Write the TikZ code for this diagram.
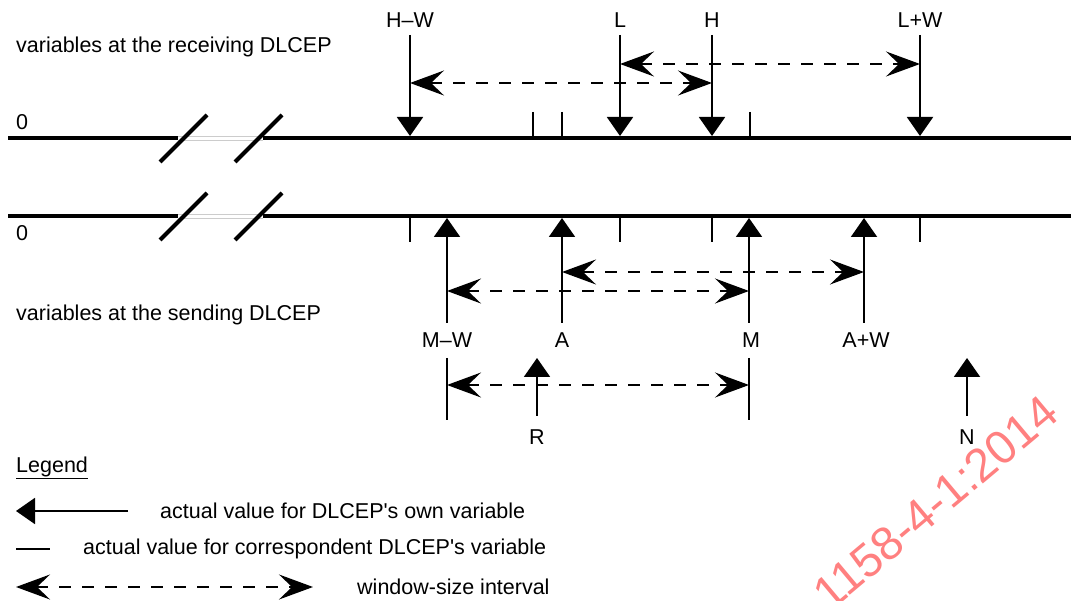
\documentclass[tikz,border=0pt]{standalone}
\usepackage{fontspec}
\setmainfont{Liberation Sans}
\usetikzlibrary{arrows.meta}
\begin{document}
\begin{tikzpicture}[x=1pt,y=-1pt,
  axis/.style={line width=4pt},
  brk/.style={line width=4pt},
  gap/.style={line width=0.6pt,black!20},
  val/.style={line width=2pt,-{Triangle[width=26pt,length=19pt]}},
  corr/.style={line width=2pt},
  win/.style={line width=2pt,dash pattern=on 12pt off 11pt,
    {Stealth[length=34pt,width=25pt,inset=13pt]}-{Stealth[length=34pt,width=25pt,inset=13pt]}},
  lbl/.style={font=\fontsize{21.5}{24}\selectfont,inner sep=0pt},
  wm/.style={font=\fontsize{47}{50}\selectfont,text=red!50,inner sep=0pt},
]
\useasboundingbox (0,0) rectangle (1071,601);

% ---- axes with breaks
\coordinate (t0) at (8,138);   \coordinate (t1) at (178,138);
\coordinate (t2) at (263,138); \coordinate (t3) at (1071,138);
\coordinate (b0) at (8,216);   \coordinate (b1) at (178,216);
\coordinate (b2) at (263,216); \coordinate (b3) at (1071,216);
\draw[axis] (t0) -- (t1);
\draw[axis] (t2) -- (t3);
\draw[axis] (b0) -- (b1);
\draw[axis] (b2) -- (b3);
\draw[gap] ([yshift=-2pt]t1) -- ([yshift=-2pt]t2);
\draw[gap] ([yshift=2pt]t1) -- ([yshift=2pt]t2);
\draw[gap] ([yshift=-2pt]b1) -- ([yshift=-2pt]b2);
\draw[gap] ([yshift=2pt]b1) -- ([yshift=2pt]b2);
\coordinate (s1a) at (160,162); \coordinate (s1b) at (207,115);
\coordinate (s2a) at (235,162); \coordinate (s2b) at (282,115);
\coordinate (s3a) at (160,240); \coordinate (s3b) at (207,193);
\coordinate (s4a) at (235,240); \coordinate (s4b) at (282,193);
\draw[brk] (s1a) -- (s1b);
\draw[brk] (s2a) -- (s2b);
\draw[brk] (s3a) -- (s3b);
\draw[brk] (s4a) -- (s4b);

\node[lbl,anchor=west] (zt) at (16,122) {0};
\node[lbl,anchor=west] (zb) at (16,233) {0};
\node[lbl,anchor=west] (rcv) at (16,47) {variables at the receiving DLCEP};
\node[lbl,anchor=west] (snd) at (16,315) {variables at the sending DLCEP};

% ---- receiving side
\node[lbl] (HW) at (410,20) {H–W};
\node[lbl] (L) at (620,20) {L};
\node[lbl] (H) at (712,20) {H};
\node[lbl] (LW) at (920,20) {L+W};
\foreach \n/\x in {hw/410,l/620,h/712,lw/920}{
  \coordinate (\n1) at (\x,35);
  \coordinate (\n0) at (\x,136);
}
\draw[val] (hw1) -- (hw0);
\draw[val] (l1) -- (l0);
\draw[val] (h1) -- (h0);
\draw[val] (lw1) -- (lw0);
\foreach \n/\x in {ta/533,tb/562,tc/750}{
  \coordinate (\n1) at (\x,112);
  \coordinate (\n0) at (\x,137);
}
\draw[corr] (ta1) -- (ta0);
\draw[corr] (tb1) -- (tb0);
\draw[corr] (tc1) -- (tc0);
\coordinate (hwd) at (410,83); \coordinate (hd) at (712,83);
\coordinate (ld) at (620,64);  \coordinate (lwd) at (920,64);
\draw[win] (hwd) -- (hd);
\draw[win] (ld) -- (lwd);

% ---- sending side
\node[lbl] (MW) at (447,340) {M–W};
\node[lbl] (A) at (562,340) {A};
\node[lbl] (M) at (751,340) {M};
\node[lbl] (AW) at (866,340) {A+W};
\foreach \n/\x in {mw/447,a/562,m/749,aw/864}{
  \coordinate (\n1) at (\x,323);
  \coordinate (\n0) at (\x,218);
}
\draw[val] (mw1) -- (mw0);
\draw[val] (a1) -- (a0);
\draw[val] (m1) -- (m0);
\draw[val] (aw1) -- (aw0);
\foreach \n/\x in {ba/410,bb/620,bc/712,bd/920}{
  \coordinate (\n1) at (\x,242);
  \coordinate (\n0) at (\x,217);
}
\draw[corr] (ba1) -- (ba0);
\draw[corr] (bb1) -- (bb0);
\draw[corr] (bc1) -- (bc0);
\draw[corr] (bd1) -- (bd0);
\coordinate (ad) at (562,272);  \coordinate (awd) at (864,272);
\coordinate (mwd) at (447,291); \coordinate (md) at (749,291);
\draw[win] (ad) -- (awd);
\draw[win] (mwd) -- (md);

% lower interval
\coordinate (mwl1) at (447,358); \coordinate (mwl0) at (447,420);
\coordinate (ml1) at (749,358);  \coordinate (ml0) at (749,420);
\draw[corr] (mwl1) -- (mwl0);
\draw[corr] (ml1) -- (ml0);
\coordinate (mwld) at (447,385); \coordinate (mld) at (749,385);
\draw[win] (mwld) -- (mld);

\node[lbl] (R) at (537,437) {R};
\node[lbl] (N) at (967,437) {N};
\coordinate (r1) at (537,416); \coordinate (r0) at (537,358);
\coordinate (n1) at (967,416); \coordinate (n0) at (967,358);
\draw[val] (r1) -- (r0);
\draw[val] (n1) -- (n0);

% ---- legend
\node[lbl,anchor=west] (leg) at (16,468) {\underline{Legend}};
\coordinate (la1) at (128,511); \coordinate (la0) at (16,511);
\draw[val] (la1) -- (la0);
\node[lbl,anchor=west] (lat) at (160,511) {actual value for DLCEP\textquotesingle s own variable};
\coordinate (lb0) at (16,549); \coordinate (lb1) at (50,549);
\draw[corr] (lb0) -- (lb1);
\node[lbl,anchor=west] (lbt) at (83,549) {actual value for correspondent DLCEP\textquotesingle s variable};
\coordinate (lc0) at (16,587); \coordinate (lc1) at (313,587);
\draw[win] (lc0) -- (lc1);
\node[lbl,anchor=west] (lct) at (357,587) {window-size interval};

% ---- watermark
\node[wm,anchor=base east,rotate=40] (wmk) at (1062,418) {1158-4-1:2014};
\end{tikzpicture}
\end{document}
